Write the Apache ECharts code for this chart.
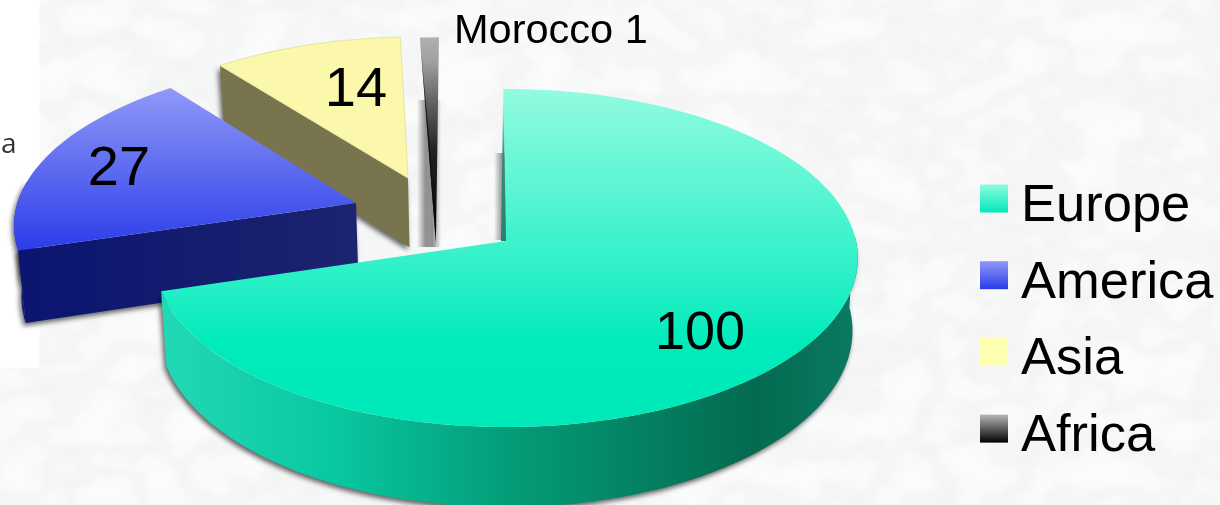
<!DOCTYPE html>
<html>
<head>
<meta charset="utf-8">
<style>
html, body { margin: 0; padding: 0; background: #f6f7f7; }
#marble { position: absolute; left: 0; top: 0; width: 1220px; height: 505px; }
#chart { position: absolute; left: 0; top: 0; width: 1220px; height: 505px; }
</style>
<script src="https://cdn.jsdelivr.net/npm/echarts@6/dist/echarts.min.js"></script>
</head>
<body>
<svg id="marble" xmlns="http://www.w3.org/2000/svg">
    <filter id="veins" x="0" y="0" width="100%" height="100%">
        <feTurbulence type="fractalNoise" baseFrequency="0.014 0.02" numOctaves="4" seed="11"/>
        <feColorMatrix type="matrix" values="1 0 0 0 0  1 0 0 0 0  1 0 0 0 0  0 0 0 0 1"/>
        <feComponentTransfer>
            <feFuncR type="table" tableValues="0.98 0.975 0.965 0.945 0.9 0.945 0.965 0.975 0.98"/>
            <feFuncG type="table" tableValues="0.985 0.98 0.97 0.95 0.905 0.95 0.97 0.98 0.985"/>
            <feFuncB type="table" tableValues="0.985 0.98 0.97 0.95 0.905 0.95 0.97 0.98 0.985"/>
        </feComponentTransfer>
        <feGaussianBlur stdDeviation="2"/>
    </filter>
    <rect width="1220" height="505" filter="url(#veins)"/>
</svg>
<div id="chart"></div>
<script>
// values
var continents = ['Europe', 'America', 'Asia', 'Africa']
var counts = [100, 27, 14, 1]
var sliceLabels = ['100', '27', '14', 'Morocco 1']

// pie "camera": the top face is a disc seen in perspective
var cx = 506, cy = 241, radius = 350, radiusY = 167.3, viewDist = 9.93, depth = 72
var firstAngle = -0.5

function vGrad(stops) {
    return new echarts.graphic.LinearGradient(0, 0, 0, 1, stops.map(function (s) {
        return { offset: s[0], color: s[1] }
    }))
}
function hGrad(stops) {
    return new echarts.graphic.LinearGradient(0, 0, 1, 0, stops.map(function (s) {
        return { offset: s[0], color: s[1] }
    }))
}

// how each slice is pulled out and painted
// wallArc: part of the outer rim (relative to the slice's own range) that faces the viewer
var sliceStyles = [
    {
        ox: 0, oy: 0, r: 1, turn: 0, z: 8, radial: false, wallArc: [88, null],
        top: vGrad([[0, '#92fbe1'], [0.6, '#22efc5'], [0.75, '#00ebbb'], [1, '#00e9b8']]),
        wall: hGrad([[0, '#22d9b5'], [0.25, '#08c8a0'], [0.5, '#049c78'], [0.85, '#036a50'], [1, '#0a7a62']]),
        label: { x: 700, y: 334, size: 54, align: 'center' }
    },
    {
        ox: -0.4387, oy: 0.2325, r: 0.99, turn: 0, z: 6, radial: true, wallArc: [null, 278],
        top: vGrad([[0, '#9199f8'], [1, '#2a3de8']]),
        wall: '#2030c4',
        radialFill: hGrad([[0, '#0b1470'], [0.6, '#151e6e'], [1, '#1c2470']]),
        label: { x: 119, y: 170, size: 56, align: 'center' }
    },
    {
        ox: -0.291, oy: 0.391, r: 1, turn: 0, z: 4, radial: true, wallArc: null,
        top: '#fbf8ac',
        radialFill: '#78754e',
        edge: '#e6e3a0',
        label: { x: 356, y: 91, size: 56, align: 'center' }
    },
    {
        ox: -0.2, oy: -0.012, r: 1.4, turn: -0.25, z: 5, radial: false, wallArc: null,
        top: vGrad([[0, '#b0b0b0'], [0.12, '#a0a0a0'], [0.3, '#666666'], [0.55, '#222222'], [1, '#000000']]),
        label: { x: 454, y: 32, size: 41.5, align: 'left' }
    }
]

var legendFills = [
    vGrad([[0, '#8ffbe0'], [1, '#00e9b8']]),
    vGrad([[0, '#9198f8'], [1, '#2a3ce8']]),
    '#ffffb0',
    vGrad([[0, '#b8b8b8'], [1, '#000000']])
]

var total = counts.reduce(function (a, b) { return a + b }, 0)

function sliceRange(i) {
    var before = 0
    for (var k = 0; k < i; k++) before += counts[k]
    var turn = sliceStyles[i].turn
    return [firstAngle + turn + before / total * 360, firstAngle + turn + (before + counts[i]) / total * 360]
}

// disc coordinates to screen, lowered = on the underside of the pie
function project(X, Y, lowered) {
    var s = viewDist / (viewDist + Y)
    var shrink = lowered ? 0.985 : 1
    return [cx + radius * X * s * shrink, cy - radiusY * Y * s + (lowered ? depth * s : 0)]
}

function rimPoint(st, deg, lowered) {
    var a = deg * Math.PI / 180
    return project(st.ox + st.r * Math.sin(a), st.oy + st.r * Math.cos(a), lowered)
}

function arcPoints(st, from, to, lowered) {
    var pts = []
    var n = Math.max(2, Math.ceil((to - from) / 1.5))
    for (var k = 0; k <= n; k++) pts.push(rimPoint(st, from + (to - from) * k / n, lowered))
    return pts
}

function renderSlice(params) {
    var idx = params.seriesIndex
    var st = sliceStyles[idx]
    var range = sliceRange(idx)
    var children = []
    var dropShadow = { shadowBlur: 5, shadowColor: 'rgba(0,0,0,0.6)', shadowOffsetX: -2, shadowOffsetY: 3 }

    if (st.wallArc) {
        var from = st.wallArc[0] === null ? range[0] : st.wallArc[0]
        var to = st.wallArc[1] === null ? range[1] : st.wallArc[1]
        var wallPts = arcPoints(st, from, to, false).concat(arcPoints(st, from, to, true).reverse())
        children.push({
            type: 'polygon',
            shape: { points: wallPts },
            style: Object.assign({ fill: st.wall }, dropShadow)
        })
    }
    if (st.radial) {
        children.push({
            type: 'polygon',
            shape: {
                points: [
                    project(st.ox, st.oy, false),
                    rimPoint(st, range[0], false),
                    rimPoint(st, range[0], true),
                    project(st.ox, st.oy, true)
                ]
            },
            style: Object.assign({ fill: st.radialFill }, dropShadow)
        })
    }

    var topPts = [project(st.ox, st.oy, false)].concat(arcPoints(st, range[0], range[1], false))
    children.push({
        type: 'polygon',
        shape: { points: topPts },
        style: st.edge ? { fill: st.top, stroke: st.edge, lineWidth: 1 } : { fill: st.top }
    })

    // the thin slice shows its dark inner face as a wedge
    if (idx === 3) {
        var tip = project(st.ox, st.oy, false)
        var a = rimPoint(st, range[0], false)
        var b = rimPoint(st, range[1], false)
        children.push({
            type: 'polygon',
            shape: { points: [[a[0], a[1]], tip, [a[0] + (b[0] - a[0]) * 0.55, a[1] + (tip[1] - a[1]) * 0.55]] },
            style: { fill: vGrad([[0, '#6a6a6a'], [0.35, '#1c1c1c'], [1, '#000000']]) }
        })
    }

    // inner edge of the big slice
    if (idx === 0) {
        var apex = project(st.ox, st.oy, false)
        var rim = rimPoint(st, range[0], false)
        children.push({
            type: 'polygon',
            shape: { points: [rim, apex, [apex[0] - 5, apex[1]]] },
            style: { fill: vGrad([[0, 'rgba(42,140,120,0)'], [0.4, 'rgba(42,140,120,0.9)'], [1, '#2a7f6c']]) }
        })
    }

    children.push({
        type: 'text',
        x: st.label.x,
        y: st.label.y,
        style: {
            text: sliceLabels[idx],
            fill: '#000',
            font: st.label.size + 'px "Liberation Sans", Arial, sans-serif',
            align: st.label.align,
            verticalAlign: 'middle'
        }
    })

    return { type: 'group', children: children }
}

var chart = echarts.init(document.getElementById('chart'), null, { renderer: 'canvas' })

var option = {
    backgroundColor: 'transparent',
    animation: false,
    legend: {
        orient: 'vertical',
        left: 975,
        top: 159,
        icon: 'rect',
        itemWidth: 28,
        itemHeight: 28,
        itemGap: 7.7,
        selectedMode: false,
        data: continents.map(function (name, i) {
            return { name: name, itemStyle: { color: legendFills[i] } }
        }),
        formatter: '{n|{name}}',
        textStyle: {
            rich: {
                n: {
                    color: '#000',
                    fontFamily: '"Liberation Sans", Arial, sans-serif',
                    fontSize: 52.5,
                    lineHeight: 50,
                    padding: [16, 0, 0, 8]
                }
            }
        }
    },
    graphic: [
        // white patch left over at the edge of the slide
        { type: 'rect', z: 0, silent: true, shape: { x: 0, y: 0, width: 39.5, height: 367.5 }, style: { fill: '#ffffff' } },
        { type: 'text', z: 1, silent: true, x: 1, y: 145, style: { text: 'a', fill: '#333333', font: '28px "Open Sans", sans-serif', verticalAlign: 'middle' } },
        // soft shadows behind the thin slice and the big slice's inner edge
        { type: 'rect', z: 1, silent: true, shape: { x: 417, y: 100, width: 24, height: 147 }, style: { fill: hGrad([[0, 'rgba(120,120,120,0)'], [0.35, 'rgba(120,120,120,0.8)'], [0.65, 'rgba(120,120,120,0.8)'], [1, 'rgba(120,120,120,0)']]) } },
        { type: 'rect', z: 1, silent: true, shape: { x: 494, y: 153, width: 12, height: 87 }, style: { fill: hGrad([[0, 'rgba(120,120,120,0)'], [0.7, 'rgba(120,120,120,0.8)'], [1, 'rgba(120,120,120,0.8)']]) } }
    ],
    series: continents.map(function (name, i) {
        return {
            type: 'custom',
            name: name,
            coordinateSystem: 'none',
            z: sliceStyles[i].z,
            silent: true,
            itemStyle: { color: legendFills[i] },
            renderItem: renderSlice,
            data: [[counts[i]]]
        }
    })
}

chart.setOption(option)
</script>
</body>
</html>
